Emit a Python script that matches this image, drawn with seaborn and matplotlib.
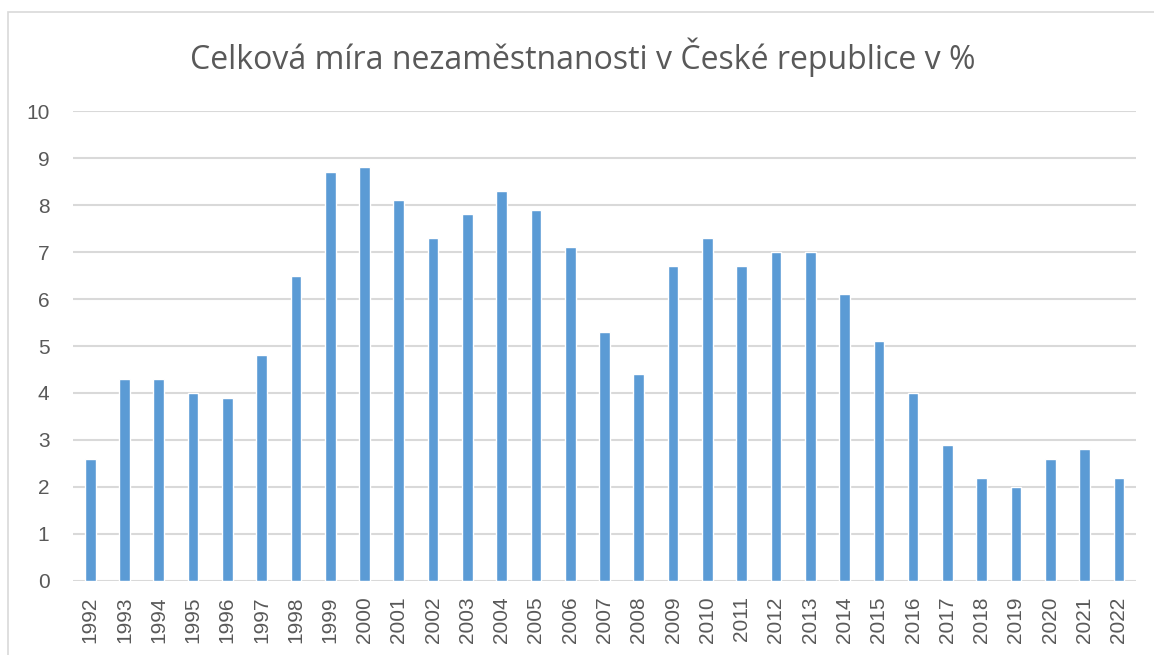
import numpy as np
import pandas as pd
import seaborn as sns
import matplotlib.pyplot as plt
from matplotlib.patches import Rectangle

# data
years = [str(y) for y in range(1992, 2023)]
rate = [2.6, 4.3, 4.3, 4.0, 3.9, 4.8, 6.5, 8.7, 8.8, 8.1, 7.3, 7.8, 8.3, 7.9, 7.1,
        5.3, 4.4, 6.7, 7.3, 6.7, 7.0, 7.0, 6.1, 5.1, 4.0, 2.9, 2.2, 2.0, 2.6, 2.8, 2.2]
yticks = list(range(0, 11))

df = pd.DataFrame({"rok": years, "mira": rate})

sns.set_style("white")
plt.rcParams['font.family'] = ['Liberation Sans', 'DejaVu Sans']

fig = plt.figure(figsize=(11.54, 6.55), dpi=100)
ax = fig.add_axes([0.0633, 0.113, 0.9211, 0.7175])

sns.barplot(data=df, x="rok", y="mira", color="#5b9bd5", saturation=1,
            width=0.31, ax=ax, zorder=3)

ax.set_ylim(0, 10)
ax.set_xlim(-0.5, len(years) - 0.5)
ax.set_yticks(yticks)
ax.yaxis.grid(True, color="#d9d9d9", linewidth=1.5, zorder=0)
ax.set_axisbelow(True)
for s in ax.spines.values():
    s.set_visible(False)
ax.set_xlabel("")
ax.set_ylabel("")
ax.tick_params(axis="both", length=0, labelsize=15, colors="#595959")
ax.tick_params(axis="y", pad=17)
ax.tick_params(axis="x", pad=11)
plt.setp(ax.get_xticklabels(), rotation=90)

fig.text(0.505, 0.912, "Celková míra nezaměstnanosti v České republice v %",
         ha="center", va="center", fontsize=23, color="#595959",
         family=['Open Sans', 'DejaVu Sans'])

# chart border
fig.patches.append(Rectangle((8 / 1154, -0.1), 1.2, 1 - 12 / 655 + 0.1,
                             transform=fig.transFigure, fill=False,
                             edgecolor="#d9d9d9", linewidth=1.2))

fig.savefig("out.png", dpi=100)
